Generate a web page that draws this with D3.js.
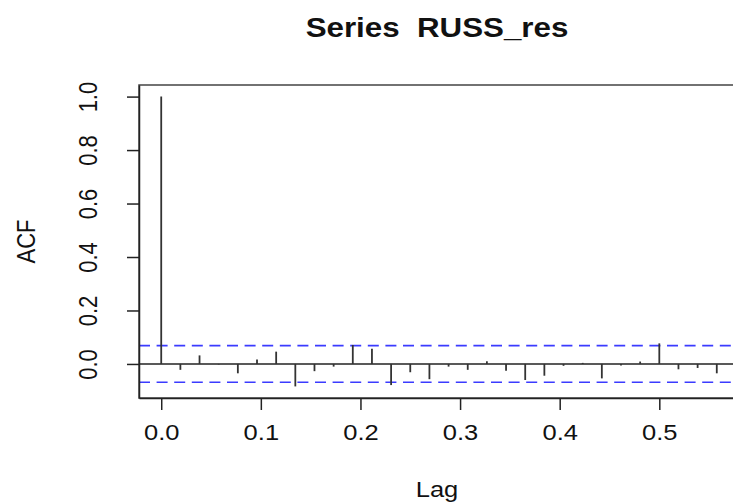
<!DOCTYPE html>
<html>
<head>
<meta charset="utf-8">
<script src="https://cdn.jsdelivr.net/npm/d3@7"></script>
<style>
  html, body { margin: 0; padding: 0; background: #ffffff; overflow: hidden; }
  svg { display: block; font-family: "Liberation Sans", Arial, Helvetica, sans-serif; }
  text { white-space: pre; }
</style>
</head>
<body>
<svg id="AcfChart" width="733" height="503"></svg>
<script>
// Series data (weekly data, frequency 52)
const seriesName = "Series  RUSS_res";
const frequency = 52;
const lagIndex = [0, 1, 2, 3, 4, 5, 6, 7, 8, 9, 10, 11, 12, 13, 14,
  15, 16, 17, 18, 19, 20, 21, 22, 23, 24, 25, 26, 27, 28, 29];
const acfValues = [1.000, -0.022, 0.032, -0.002, -0.035, 0.017, 0.046, -0.084, -0.027, -0.010,
  0.071, 0.057, -0.079, -0.031, -0.057, -0.010, -0.022, 0.010, -0.025, -0.060,
  -0.044, -0.007, 0.004, -0.054, -0.006, 0.009, 0.077, -0.020, -0.015, -0.035];
const ciBound = 0.0685;
const xTicks = [0, 0.1, 0.2, 0.3, 0.4, 0.5];
const yTicks = [0, 0.2, 0.4, 0.6, 0.8, 1.0];

// The original picture is a little stretched sideways, text included
const textStretch = 1.16;

function drawAcf()
{
  // Plot region (the right side runs past the window like the original)
  const margin = { top: 85, left: 139, bottom: 105 };
  const plotWidth = 600;
  const plotHeight = 503 - margin.top - margin.bottom;

  const svg = d3.select("#AcfChart");
  svg.selectAll("*").remove();

  const data = lagIndex.map((k, i) => ({ lag: k / frequency, acf: acfValues[i] }));

  // R style limits: data range extended by 4% each side
  const xMin = d3.min(data, d => d.lag), xMax = d3.max(data, d => d.lag);
  const xPad = (xMax - xMin) * 0.04;
  const yMin = d3.min(data, d => d.acf), yMax = d3.max(data, d => d.acf);
  const yPad = (yMax - yMin) * 0.04;

  const xScale = d3.scaleLinear()
    .domain([xMin - xPad, xMax + xPad])
    .range([0, plotWidth]);

  const yScale = d3.scaleLinear()
    .domain([yMin - yPad, yMax + yPad])
    .range([plotHeight, 0]);

  const chart = svg.append("g")
    .attr("transform", `translate(${ margin.left }, ${ margin.top })`);

  // Confidence bounds
  chart.selectAll(".ci-line")
    .data([ciBound, -ciBound])
    .enter()
    .append("line")
    .attr("class", "ci-line")
    .attr("x1", 0)
    .attr("x2", plotWidth)
    .attr("y1", d => yScale(d))
    .attr("y2", d => yScale(d))
    .attr("stroke", "#3b3bff")
    .attr("stroke-width", 1.6)
    .attr("stroke-dasharray", "11,6.6");

  // Zero line
  chart.append("line")
    .attr("x1", 0)
    .attr("x2", plotWidth)
    .attr("y1", yScale(0))
    .attr("y2", yScale(0))
    .attr("stroke", "#222")
    .attr("stroke-width", 1.4);

  // ACF spikes
  chart.selectAll(".spike")
    .data(data)
    .enter()
    .append("line")
    .attr("class", "spike")
    .attr("x1", d => xScale(d.lag))
    .attr("x2", d => xScale(d.lag))
    .attr("y1", yScale(0))
    .attr("y2", d => yScale(d.acf))
    .attr("stroke", "#333")
    .attr("stroke-width", 1.8);

  // Box around plot region
  chart.append("rect")
    .attr("x", 0)
    .attr("y", 0)
    .attr("width", plotWidth)
    .attr("height", plotHeight)
    .attr("fill", "none")
    .attr("stroke", "#444")
    .attr("stroke-width", 1.5);

  // Axes
  const xAxis = d3.axisBottom(xScale)
    .tickValues(xTicks)
    .tickFormat(d3.format(".1f"))
    .tickSizeInner(12)
    .tickSizeOuter(0)
    .tickPadding(14);

  const yAxis = d3.axisLeft(yScale)
    .tickValues(yTicks)
    .tickFormat(d3.format(".1f"))
    .tickSizeInner(12)
    .tickSizeOuter(0)
    .tickPadding(0);

  const gx = chart.append("g")
    .attr("transform", `translate(0, ${ plotHeight })`)
    .call(xAxis);

  const gy = chart.append("g")
    .call(yAxis);

  [gx, gy].forEach(g =>
  {
    g.select(".domain").attr("stroke", "#222").attr("stroke-width", 1.5);
    g.selectAll(".tick line").attr("stroke", "#222").attr("stroke-width", 1.5);
    g.selectAll("text")
      .attr("fill", "#111")
      .attr("font-size", "22px")
      .attr("font-family", "Liberation Sans, Arial, sans-serif");
  });

  gx.selectAll(".tick text")
    .attr("transform", `scale(${ textStretch }, 1)`);

  // R draws y tick labels parallel to the axis
  gy.selectAll(".tick text")
    .attr("transform", `scale(${ textStretch }, 1) rotate(-90)`)
    .attr("x", 0)
    .attr("y", -42 / textStretch)
    .attr("dy", 0)
    .attr("text-anchor", "middle");

  // Title
  svg.append("text")
    .attr("transform", `translate(${ margin.left + plotWidth / 2 - 2 }, 37) scale(${ textStretch }, 1)`)
    .attr("text-anchor", "middle")
    .attr("font-size", "27px")
    .attr("font-weight", "bold")
    .attr("fill", "#111")
    .text(seriesName);

  // Axis titles
  svg.append("text")
    .attr("transform", `translate(${ margin.left + plotWidth / 2 - 2 }, 497) scale(${ textStretch }, 1)`)
    .attr("text-anchor", "middle")
    .attr("font-size", "22px")
    .attr("fill", "#111")
    .text("Lag");

  svg.append("text")
    .attr("transform", `translate(35, ${ margin.top + plotHeight / 2 }) scale(${ textStretch }, 1) rotate(-90)`)
    .attr("text-anchor", "middle")
    .attr("font-size", "22px")
    .attr("fill", "#111")
    .text("ACF");
}

drawAcf();
</script>
</body>
</html>
